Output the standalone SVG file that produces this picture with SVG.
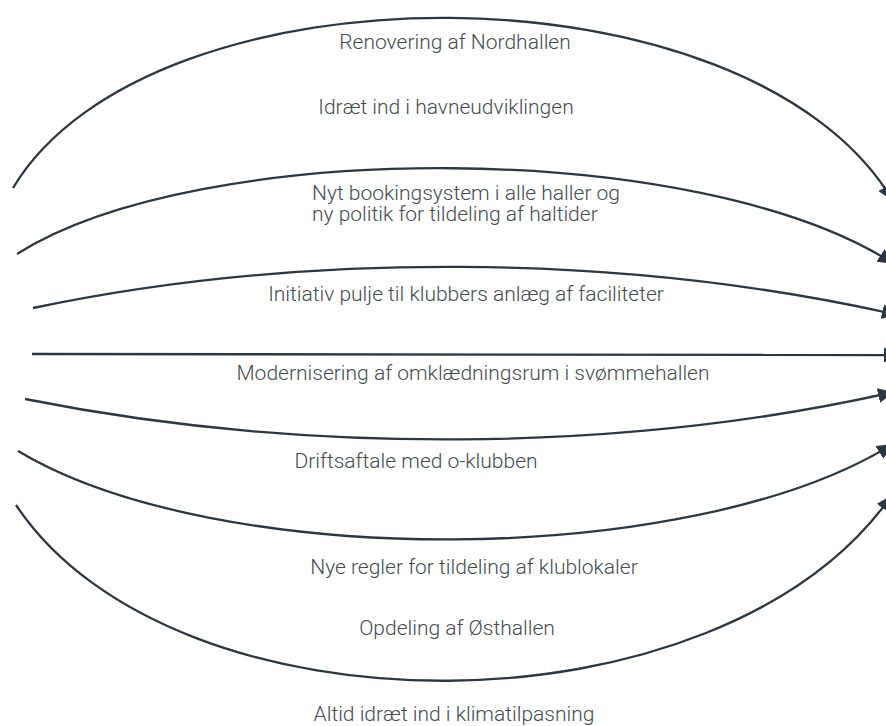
<svg xmlns="http://www.w3.org/2000/svg" width="886" height="726" viewBox="0 0 886 726">
<defs>
<marker id="ah" markerUnits="userSpaceOnUse" markerWidth="17" markerHeight="15" refX="16" refY="7.5" orient="auto">
<path d="M0,0 L16,7.5 L0,15 z" fill="#2c3741"/>
</marker>
<style>
.c{fill:none;stroke:#2c3741;stroke-width:2.3;marker-end:url(#ah)}
.t{font-family:Roboto,"Liberation Sans",sans-serif;font-size:21px;font-weight:300;fill:#454c52;text-anchor:middle}
.l{text-anchor:start}
</style>
</defs>
<rect width="886" height="726" fill="#ffffff"/>
<g id="connectors">
<path class="c" d="M13,188 C150,-41 750,-41 893,201"/>
<path class="c" d="M17,254 C200,138 700,138 894,264"/>
<path class="c" d="M33,308 C300,252 620,252 898,315"/>
<path class="c" d="M32,354 L900,355"/>
<path class="c" d="M25,399 C300,454 620,454 894,392"/>
<path class="c" d="M18,451 C216,570 690,570 893,444"/>
<path class="c" d="M16,505 C173,741 720,741 892,495"/>
</g>
<g id="n1"><text class="t" x="455" y="49">Renovering af Nordhallen</text></g>
<g id="n2"><text class="t" x="446" y="114">Idræt ind i havneudviklingen</text></g>
<g id="n3"><text class="t l" x="312" y="200">Nyt bookingsystem i alle haller og</text><text class="t l" x="312" y="221"> ny politik for tildeling af haltider</text></g>
<g id="n4"><text class="t" x="466" y="301">Initiativ pulje til klubbers anlæg af faciliteter</text></g>
<g id="n5"><text class="t" x="473" y="380">Modernisering af omklædningsrum i svømmehallen</text></g>
<g id="n6"><text class="t" x="416" y="468">Driftsaftale med o-klubben</text></g>
<g id="n7"><text class="t" x="474" y="574">Nye regler for tildeling af klublokaler</text></g>
<g id="n8"><text class="t" x="457" y="635">Opdeling af Østhallen</text></g>
<g id="n9"><text class="t" x="454" y="721">Altid idræt ind i klimatilpasning</text></g>
</svg>
